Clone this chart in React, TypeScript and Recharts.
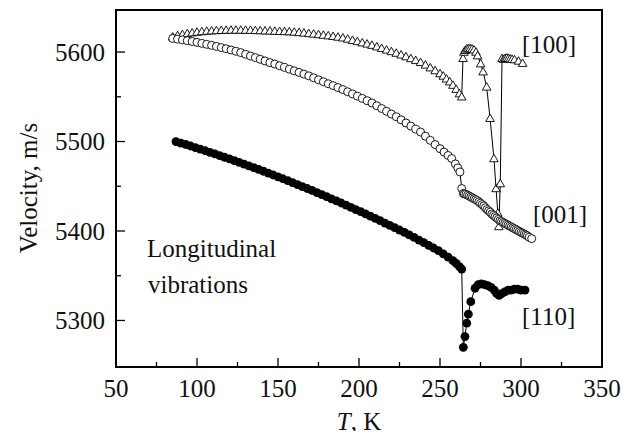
import React from "react";
import { ComposedChart, Line, XAxis, YAxis, ReferenceArea } from "recharts";

// [100] triangles
const temp100 = [
  85, 88, 91, 94, 97, 100, 103, 106, 109, 112, 115, 118, 121, 124, 127, 130, 133, 136, 139, 142,
  145, 148, 151, 154, 157, 160, 163, 166, 169, 172, 175, 178, 181, 184, 187, 190, 193, 196, 199,
  202, 205, 208, 211, 214, 217, 220, 223, 226, 229, 232, 235, 238, 241, 244, 247, 250, 252, 254,
  256, 258, 260, 262, 263.4, 264.2, 264.8, 265.6, 266.5, 267.5, 268.6, 269.8, 271, 272.2, 273.2,
  275.1, 276.6, 278.8, 280.9, 283.3, 284.6, 285.7, 286.3, 287.2, 288.3, 289.2, 290.2, 291.2,
  292.2, 293.3, 294.5, 296, 298.5, 301,
];
const vel100 = [
  5617, 5618.5, 5619.7, 5620.7, 5621.6, 5622.3, 5622.9, 5623.4, 5623.8, 5624.1, 5624.3, 5624.5,
  5624.6, 5624.6, 5624.6, 5624.5, 5624.4, 5624.2, 5624, 5623.8, 5623.6, 5623.4, 5623.2, 5623,
  5622.8, 5622.4, 5621.9, 5621.4, 5620.8, 5620.2, 5619.6, 5619, 5618.3, 5617.6, 5616.8, 5615.9,
  5614.6, 5613.2, 5611.8, 5610.4, 5609.1, 5607.7, 5606, 5604.2, 5602.4, 5600.6, 5598.8, 5596.9,
  5594.9, 5592.8, 5590.7, 5588.5, 5585.6, 5582.5, 5579.3, 5576, 5573.2, 5570, 5566.8, 5563,
  5558.5, 5553.5, 5550, 5593, 5600, 5602, 5603.5, 5604, 5604, 5603.5, 5602.5, 5600, 5596, 5587,
  5578, 5561, 5526, 5481, 5447.5, 5420, 5405, 5453, 5593, 5592, 5593, 5593.5, 5593, 5592.5,
  5592, 5591.5, 5590, 5587.5,
];

// [001] open circles
const temp001 = [
  85, 88, 91, 94, 97, 100, 103, 106, 109, 112, 115, 118, 121, 124, 127, 130, 133, 136, 139, 142,
  145, 148, 151, 154, 157, 160, 163, 166, 169, 172, 175, 178, 181, 184, 187, 190, 193, 196, 199,
  202, 205, 208, 211, 214, 217, 220, 223, 226, 229, 232, 235, 238, 241, 244, 247, 250, 252.5,
  255, 257.2, 259.5, 261, 262.3, 263.4, 264.4, 265, 266, 267, 268, 269, 270, 271, 272, 273, 274,
  275, 276, 277, 278, 279, 280, 281, 282, 283, 284, 285, 286, 287, 288, 289, 290, 291, 292, 293,
  294, 295, 296, 297, 298, 299, 300, 301, 302, 303, 304, 305, 306.6,
];
const vel001 = [
  5615.2, 5614.4, 5613.6, 5612.7, 5611.8, 5610.8, 5609.7, 5608.6, 5607.5, 5606.3, 5605, 5603.7,
  5602.3, 5600.9, 5599.4, 5597.5, 5595.6, 5593.8, 5591.9, 5590.1, 5588.2, 5586.6, 5584.7,
  5582.8, 5580.9, 5579, 5577.2, 5575.3, 5573.4, 5571.2, 5569, 5566.8, 5564.6, 5562.5, 5560.3,
  5558.1, 5555.6, 5553.2, 5550.7, 5548.2, 5545.6, 5543.1, 5540, 5536.9, 5533.8, 5530.7, 5527.7,
  5524.2, 5520.7, 5517.3, 5513.8, 5510.6, 5506, 5501.3, 5496.6, 5492, 5488.2, 5484.4, 5481,
  5475, 5470.5, 5466, 5447.5, 5442, 5441.5, 5441, 5440, 5439, 5438, 5437, 5436, 5435, 5434,
  5432.5, 5431, 5429.5, 5428, 5426, 5424, 5422.5, 5421, 5419, 5417.5, 5416, 5414.5, 5413,
  5411.5, 5410.5, 5409.5, 5408.5, 5407.5, 5406.5, 5405.5, 5404.5, 5403.5, 5402.5, 5401.5,
  5400.5, 5399.5, 5398.5, 5397.5, 5396.5, 5395.5, 5394.5, 5393, 5391.5,
];

// [110] filled circles
const temp110 = [
  87, 90, 93, 96, 99, 102, 105, 108, 111, 114, 117, 120, 123, 126, 129, 132, 135, 138, 141, 144,
  147, 150, 153, 156, 159, 162, 165, 168, 171, 174, 177, 180, 183, 186, 189, 192, 195, 198, 201,
  204, 207, 210, 213, 216, 219, 222, 225, 228, 231, 234, 237, 240, 243, 246, 249, 252, 255, 258,
  260, 262, 263.4, 264.4, 265.4, 266.5, 267.5, 269, 271.6, 273.6, 275.5, 277.5, 279.5, 281.5,
  283.5, 285, 286.5, 288, 290, 292, 294, 296, 298, 300, 302.5,
];
const vel110 = [
  5500, 5498.3, 5496.7, 5495, 5493.2, 5491.5, 5489.7, 5487.9, 5486.1, 5484.3, 5482.4, 5480.5,
  5478.6, 5476.7, 5474.8, 5472.8, 5470.8, 5468.8, 5466.8, 5464.7, 5462.6, 5460.5, 5458.4,
  5456.3, 5454.1, 5451.9, 5449.7, 5447.5, 5445.3, 5443, 5440.7, 5438.4, 5436, 5433.7, 5431.3,
  5428.9, 5426.5, 5424, 5421.6, 5419.1, 5416.6, 5414, 5411.5, 5408.9, 5406.3, 5403.7, 5401.1,
  5398.4, 5395.6, 5392.8, 5389.9, 5387, 5384, 5381, 5378, 5374.5, 5370.8, 5366.8, 5363.8,
  5360.2, 5357.5, 5270, 5282, 5297, 5307, 5321, 5336, 5340, 5341, 5340, 5339, 5337, 5334, 5330,
  5328, 5330, 5332, 5334, 5334, 5335, 5335, 5334, 5334,
];

const xTicks = [50, 75, 100, 125, 150, 175, 200, 225, 250, 275, 300, 325, 350];
const yTicks = [5300, 5350, 5400, 5450, 5500, 5550, 5600];

const toRows = (ts: number[], vs: number[]) => ts.map((T, i) => ({ T, V: vs[i] }));
const data100 = toRows(temp100, vel100);
const data001 = toRows(temp001, vel001);
const data110 = toRows(temp110, vel110);

const FONT = '"Liberation Serif", "Times New Roman", serif';
const FS = 25;

function XTick({ x, y, payload }: any) {
  const major = payload.value % 50 === 0;
  return (
    <g>
      <line x1={x} x2={x} y1={y} y2={y - (major ? 9 : 5)} stroke="#000" strokeWidth={1.3} />
      {major && (
        <text x={x} y={y + 30} textAnchor="middle" fontFamily={FONT} fontSize={FS} fill="#111">
          {payload.value}
        </text>
      )}
    </g>
  );
}

function YTick({ x, y, payload }: any) {
  const major = payload.value % 100 === 0;
  return (
    <g>
      <line x1={x} x2={x + (major ? 9 : 5)} y1={y} y2={y} stroke="#000" strokeWidth={1.3} />
      {major && (
        <text x={x - 11} y={y + 8.5} textAnchor="end" fontFamily={FONT} fontSize={FS} fill="#111">
          {payload.value}
        </text>
      )}
    </g>
  );
}

const triangleDot = (p: any) => (
  <polygon
    key={`t${p.index}`}
    points={`${p.cx},${p.cy - 4.3} ${p.cx - 4.3},${p.cy + 3.2} ${p.cx + 4.3},${p.cy + 3.2}`}
    fill="#fff"
    stroke="#000"
    strokeWidth={0.9}
  />
);
const openDot = (p: any) => (
  <circle key={`o${p.index}`} cx={p.cx} cy={p.cy} r={4} fill="#fff" stroke="#000" strokeWidth={0.9} />
);
const filledDot = (p: any) => (
  <circle key={`f${p.index}`} cx={p.cx} cy={p.cy} r={4.4} fill="#000" />
);

export default function App() {
  return (
    <div style={{ position: "relative", width: 618, height: 423 }}>
      <ComposedChart width={618} height={423} margin={{ top: 2, right: 24, left: 0, bottom: 0 }}>
        <XAxis
          type="number"
          dataKey="T"
          domain={[50, 350]}
          ticks={xTicks}
          interval={0}
          tick={XTick}
          tickLine={false}
          axisLine={false}
          tickSize={0}
          tickMargin={0}
          height={64}
          allowDataOverflow
        />
        <YAxis
          type="number"
          dataKey="V"
          domain={[5248, 5647]}
          ticks={yTicks}
          interval={0}
          tick={YTick}
          tickLine={false}
          axisLine={false}
          tickSize={0}
          tickMargin={0}
          width={108}
          allowDataOverflow
        />
        <ReferenceArea x1={50} x2={350} y1={5248} y2={5647} fill="none" stroke="#000" strokeWidth={2} />
        <Line data={data100} dataKey="V" stroke="#000" strokeWidth={1} dot={triangleDot} activeDot={false} isAnimationActive={false} />
        <Line data={data001} dataKey="V" stroke="#000" strokeWidth={1} dot={openDot} activeDot={false} isAnimationActive={false} />
        <Line data={data110} dataKey="V" stroke="#000" strokeWidth={1} dot={filledDot} activeDot={false} isAnimationActive={false} />
      </ComposedChart>
      <svg
        width={618}
        height={423}
        style={{ position: "absolute", left: 0, top: 0, pointerEvents: "none", overflow: "visible" }}
        fontFamily={FONT}
        fontSize={FS}
        fill="#111"
      >
        <text transform="translate(29,180) rotate(-90)" textAnchor="middle">
          Velocity, m/s
        </text>
        <text x={351} y={422} textAnchor="middle">
          <tspan fontStyle="italic">T</tspan>, K
        </text>
        <text x={514} y={45}>[100]</text>
        <text x={525} y={215}>[001]</text>
        <text x={514} y={317}>[110]</text>
        <text x={139} y={249}>Longitudinal</text>
        <text x={140} y={285}>vibrations</text>
      </svg>
    </div>
  );
}
